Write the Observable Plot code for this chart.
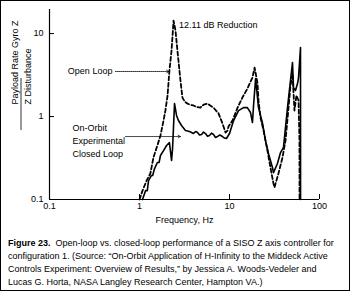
<!DOCTYPE html>
<html><head><meta charset="utf-8">
<script src="https://cdn.jsdelivr.net/npm/d3@7"></script>
<script src="https://cdn.jsdelivr.net/npm/@observablehq/plot@0.6"></script>
<style>
body{margin:0;background:#fff;font-family:"Liberation Sans",Arial,sans-serif;}
#wrap{position:relative;width:350px;height:291px;overflow:hidden;}
#border{position:absolute;left:0;top:0;width:350px;height:291px;box-sizing:border-box;border:1px solid #000;pointer-events:none;}
#cap{position:absolute;left:8px;top:237px;font-size:9px;line-height:13px;white-space:nowrap;color:#000;}
</style></head>
<body><div id="wrap"><div id="chart"></div><div id="cap"></div><div id="border"></div></div>
<script>
const openFreq = [1.0,1.08,1.20,1.32,1.43,1.58,1.71,1.85,1.94,2.05,2.15,2.27,2.39,2.51,2.64,2.85,3.0,3.2,3.42,3.7,3.98,4.3,4.76,5.0,5.27,5.70,6.1,6.64,7.55,8.36,9.03,9.50,9.75,10.8,12.3,13.9,15.8,18.0,19.0,20.5,21.0,22.1,23.9,26.4,28.5,30.8,31.6,35.0,38.8,41.9,45.3,47.6,50.1,52.7,55.5,58.5,59.9,60.0];
const openVal  = [0.1,0.128,0.169,0.206,0.321,0.448,0.591,0.895,1.18,1.79,3.58,6.23,14.3,10.9,6.23,2.72,1.69,1.50,1.43,1.38,1.36,1.30,1.28,1.36,1.40,1.43,1.36,1.28,1.09,0.824,0.641,0.678,0.758,0.895,1.28,1.69,2.17,2.95,3.89,2.50,1.56,0.973,0.678,0.389,0.243,0.156,0.140,0.206,0.321,0.514,1.28,2.36,3.30,1.18,1.79,1.56,0.514,0.1];
const closedFreq = [1.08,1.17,1.22,1.26,1.36,1.40,1.47,1.58,1.65,1.71,1.85,2.0,2.15,2.27,2.33,2.45,2.58,2.71,2.93,3.24,3.59,3.98,4.2,4.41,4.65,4.89,5.15,5.41,5.7,5.99,6.3,6.64,7.0,7.36,7.8,8.36,8.8,9.26,10.0,11.1,12.6,14.3,15.8,17.1,18.0,18.5,19.5,21.0,23.3,25.1,27.1,30.0,30.8,34.1,36.9,39.8,44.1,47.6,50.1,51.4,54.1,57.0,58.5,61.5,61.6];
const closedVal  = [0.1,0.128,0.128,0.169,0.195,0.195,0.236,0.279,0.279,0.339,0.389,0.448,0.486,0.295,0.411,1.43,1.03,0.895,0.780,0.678,0.659,0.624,0.660,0.641,0.600,0.607,0.650,0.624,0.580,0.590,0.630,0.607,0.560,0.574,0.600,0.574,0.550,0.543,0.624,0.895,1.18,1.28,1.28,1.12,0.848,1.36,2.87,1.28,0.824,0.514,0.358,0.243,0.211,0.272,0.368,0.424,1.28,2.72,4.48,2.23,2.06,2.50,2.95,6.78,0.1];
const xTicks = [0.1, 1, 10, 100];
const yTicks = [0.1, 1, 10];
const xTickLabels = ["0.1", "1", "10", "100"];
const yTickLabels = ["0.1", "1", "10"];
const peakLabel = "12.11 dB Reduction";
const openLabel = "Open Loop";
const closedLabel = "On-Orbit\nExperimental\nClosed Loop";
const yLabelTop = "Payload Rate Gyro Z";
const yLabelBottom = "Z Disturbance";
const xLabel = "Frequency, Hz";

const openData = openFreq.map((f,i)=>({f, v: openVal[i]}));
const closedData = closedFreq.map((f,i)=>({f, v: closedVal[i]}));
const font = "Liberation Sans, Arial, sans-serif";

const plot = Plot.plot({
  width: 350, height: 230,
  marginLeft: 49, marginRight: 31, marginTop: 9, marginBottom: 31,
  style: {fontFamily: font, fontSize: "9px", background: "transparent", color: "#000"},
  x: {type: "log", domain: [0.1, 100]},
  y: {type: "log", domain: [0.1, 19.5]},
  marks: [
    Plot.axisX({ticks: xTicks, tickFormat: (d)=>xTickLabels[xTicks.indexOf(d)], tickSize: -5, tickPadding: 8, label: null, fontSize: 9}),
    Plot.axisY({ticks: yTicks, tickFormat: (d)=>yTickLabels[yTicks.indexOf(d)], tickSize: -5, tickPadding: 11, label: null, fontSize: 9}),
    Plot.ruleX([0.1], {stroke: "#000", strokeWidth: 1.2}),
    Plot.ruleY([0.1], {stroke: "#000", strokeWidth: 1.2}),
    Plot.line(openData, {x: "f", y: "v", stroke: "#000", strokeWidth: 1.8, strokeDasharray: "4,2.5", curve: "linear"}),
    Plot.line(closedData, {x: "f", y: "v", stroke: "#000", strokeWidth: 1.6, curve: "linear"}),
    Plot.text([peakLabel], {x: 2.75, y: 12.8, text: d=>d, textAnchor: "start", fontSize: 9}),
    Plot.text([openLabel], {x: 0.50, y: 3.49, text: d=>d, textAnchor: "end", fontSize: 9}),
    Plot.arrow([0], {x1: 0.54, y1: 3.49, x2: 2.12, y2: 3.49, stroke: "#000", strokeWidth: 0.8, strokeDasharray: "1,1", headLength: 5, bend: 0}),
    Plot.text([closedLabel], {x: 0.18, y: 0.528, text: d=>d, textAnchor: "start", lineHeight: 1.45, fontSize: 9}),
    Plot.arrow([0], {x1: 0.70, y1: 0.574, x2: 2.85, y2: 0.574, stroke: "#000", strokeWidth: 0.8, strokeDasharray: "1,1", headLength: 5, bend: 0}),
    Plot.text([yLabelTop], {frameAnchor: "left", dx: -34, text: d=>d, rotate: -90, fontSize: 9}),
    Plot.text([yLabelBottom], {frameAnchor: "left", dx: -21, text: d=>d, rotate: -90, fontSize: 9}),
    Plot.text([xLabel], {frameAnchor: "bottom", dy: 23, text: d=>d, fontSize: 9})
  ]
});
document.getElementById("chart").appendChild(plot);
// fraction bar between the two y-label lines
const svg = d3.select(plot);
const cy = (9 + (230 - 31)) / 2;
svg.append("line").attr("x1", 49 - 28).attr("x2", 49 - 28).attr("y1", cy - 26).attr("y2", cy + 26).attr("stroke", "#000").attr("stroke-width", 0.8);

const capLines = [
  ["Figure 23.", "  Open-loop vs. closed-loop performance of a SISO Z axis controller for"],
  ["", "configuration 1. (Source: \u201COn-Orbit Application of H-Infinity to the Middeck Active"],
  ["", "Controls Experiment: Overview of Results,\u201D by Jessica A. Woods-Vedeler and"],
  ["", "Lucas G. Horta, NASA Langley Research Center, Hampton VA.)"]
];
const cap = document.getElementById("cap");
capLines.forEach(([b, t]) => {
  const line = document.createElement("div");
  line.style.whiteSpace = "pre";
  if (b) { const s = document.createElement("b"); s.textContent = b; line.appendChild(s); }
  line.appendChild(document.createTextNode(t));
  cap.appendChild(line);
});
</script></body></html>
